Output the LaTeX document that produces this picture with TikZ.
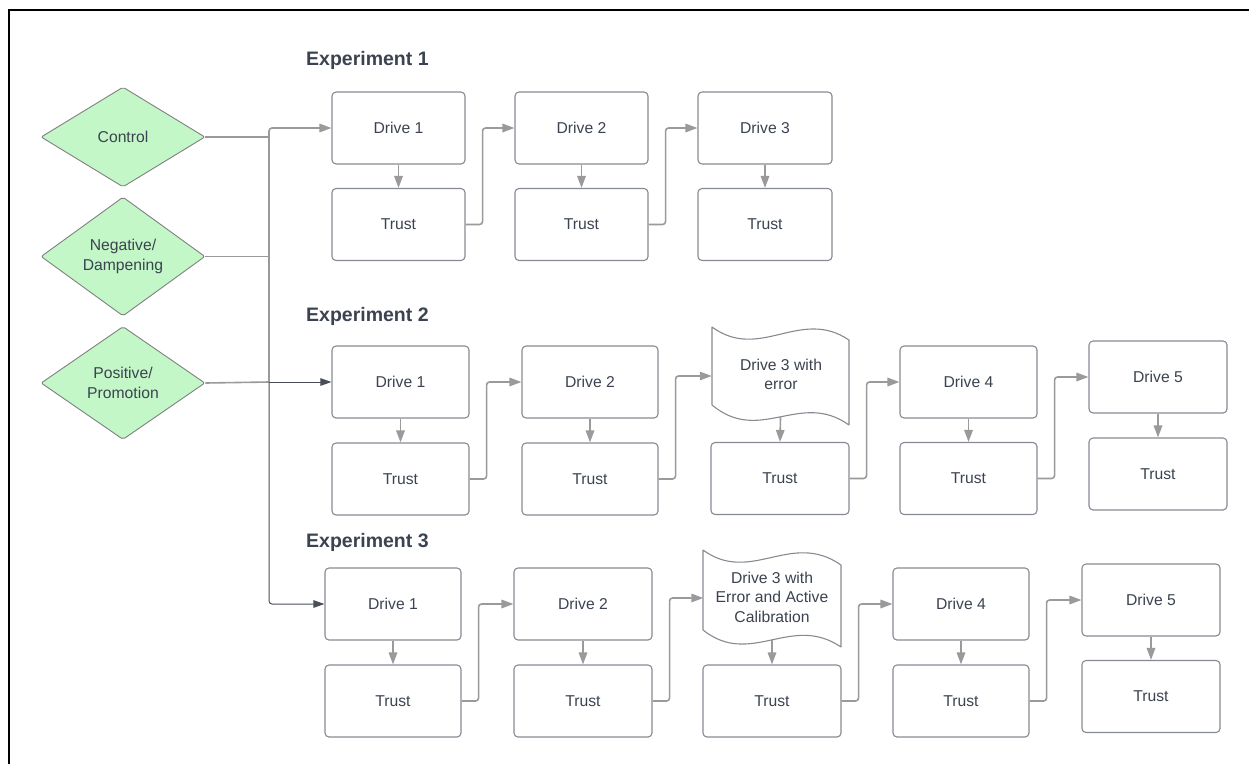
\documentclass[tikz,border=0pt]{standalone}
\usepackage{fontspec}
\setmainfont{Liberation Sans}
\usetikzlibrary{arrows.meta,shapes.geometric}
\definecolor{txt}{HTML}{3B4350}
\definecolor{edgec}{HTML}{868B93}
\definecolor{conn}{HTML}{9A9A9A}
\definecolor{darkc}{HTML}{4A4F57}
\definecolor{mint}{HTML}{C3F7C8}
\begin{document}
\begin{tikzpicture}[x=1pt,y=-1pt,
  lbl/.style={font=\fontsize{15.7}{19.5}\selectfont, text=txt, align=center},
  box/.style={lbl, draw=edgec, line width=1.1pt, rounded corners=4pt, fill=white,
    minimum width=#1, minimum height=72pt, inner sep=0pt},
  box/.default=137pt,
  dia/.style={lbl, shape=diamond, draw=gray, line width=0.9pt, fill=mint,
    aspect=1.4, inner sep=0pt, minimum width=164pt, rounded corners=2pt},
  title/.style={font=\fontsize{19.5}{22}\selectfont\bfseries, text=txt, anchor=west, inner sep=0pt},
  docbox/.style={inner sep=0pt, minimum width=137pt},
  conn/.style={draw=conn, line width=1.6pt, rounded corners=3pt},
  arr/.style={conn, -{Triangle[length=12pt,width=8.5pt]}},
  darr/.style={draw=darkc, line width=1pt, rounded corners=3pt, -{Triangle[length=11pt,width=7.5pt]}},
  docline/.style={draw=edgec, line width=1.1pt, fill=white, line join=round}
]
\useasboundingbox (0,0) rectangle (1249,764);
% frame
\draw[line width=2.5pt, black] (9,764) -- (9,10) -- (1249,10);

% diamonds
\node[dia, minimum height=100pt] (ctrl) at (123,137) {Control};
\node[dia, minimum height=119pt] (neg) at (123,256.5) {Negative/\\Dampening};
\node[dia, minimum height=113pt] (pos) at (123,383) {Positive/\\Promotion};

% titles
\node[title] (e1) at (306,60) {Experiment 1};
\node[title] (e2) at (306,316) {Experiment 2};
\node[title] (e3) at (306,542) {Experiment 3};

% Experiment 1
\node[box=133pt] (d11) at (398.5,128) {Drive 1};
\node[box=133pt] (t11) at (398.5,224.5) {Trust};
\node[box=133pt] (d12) at (581.5,128) {Drive 2};
\node[box=133pt] (t12) at (581.5,224.5) {Trust};
\node[box=134pt] (d13) at (765,128) {Drive 3};
\node[box=134pt] (t13) at (765,224.5) {Trust};

% Experiment 2
\node[box] (d21) at (400.5,382) {Drive 1};
\node[box] (t21) at (400.5,479) {Trust};
\node[box=136pt] (d22) at (590,382) {Drive 2};
\node[box=136pt] (t22) at (590,479) {Trust};
\draw[docline] (712,327) .. controls (760,362) and (800,307) .. (849,340)
  -- (849,425) .. controls (800,390) and (760,445) .. (712,405) -- cycle;
\node[docbox, minimum height=82pt] (doc23) at (780.5,376) {};
\node[lbl] (doc23t) at (781,374.5) {Drive 3 with\\error};
\node[box=138pt] (t23) at (780,478.5) {Trust};
\node[box] (d24) at (968.5,382) {Drive 4};
\node[box] (t24) at (968.5,478.5) {Trust};
\node[box=138pt] (d25) at (1158,377) {Drive 5};
\node[box=138pt] (t25) at (1158,474) {Trust};

% Experiment 3
\node[box=136pt] (d31) at (393,604) {Drive 1};
\node[box=136pt] (t31) at (393,701) {Trust};
\node[box=138pt] (d32) at (583,604) {Drive 2};
\node[box=138pt] (t32) at (583,701) {Trust};
\draw[docline] (703,550) .. controls (751,585) and (791,530) .. (841,565)
  -- (841,647) .. controls (791,613) and (751,668) .. (703,630) -- cycle;
\node[docbox, minimum height=84pt] (doc33) at (772,598) {};
\node[lbl] (doc33t) at (772,597) {Drive 3 with\\Error and Active\\Calibration};
\node[box=138pt] (t33) at (772,701) {Trust};
\node[box=136pt] (d34) at (961,604) {Drive 4};
\node[box=136pt] (t34) at (961,701) {Trust};
\node[box=138pt] (d35) at (1151,600) {Drive 5};
\node[box=138pt] (t35) at (1151,696.5) {Trust};

% left connectors
\coordinate (j1) at (269,137);
\coordinate (j2) at (269,256.5);
\coordinate (j3) at (269,382);
\draw[conn] (ctrl.east) -- (j1);
\draw[conn] (neg.east) -- (j2);
\draw[conn] (pos.east) -- (j3);
\draw[conn] (j1) -- (j3);
\draw[arr] (j1) |- (d11.west);
\draw[darr] (j3) -- (d21.west);
\draw[darr] (j3) |- (d31.west);

% drive -> trust
\foreach \a/\b in {d11/t11,d12/t12,d13/t13,d21/t21,d22/t22,doc23/t23,d24/t24,d25/t25,
                   d31/t31,d32/t32,doc33/t33,d34/t34,d35/t35}
  \draw[arr] (\a.south) -- (\b.north);

% trust -> next drive
\foreach \a/\b in {t11/d12,t12/d13,t21/d22,t22/doc23,t23/d24,t24/d25,
                   t31/d32,t32/doc33,t33/d34,t34/d35}
  \draw[arr] (\a.east) -- ++(17,0) |- (\b.west);
\end{tikzpicture}
\end{document}
